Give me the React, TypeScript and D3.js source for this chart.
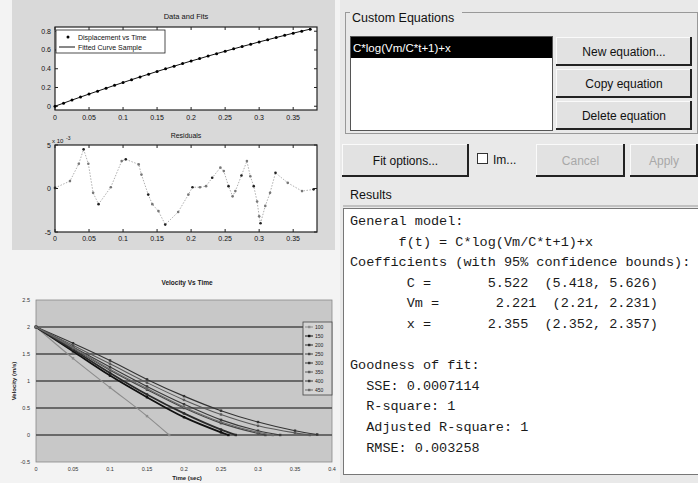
import React from 'react';
import * as d3 from 'd3';

// ---------- Data and Fits ----------
const dispT = [0, 0.0125, 0.025, 0.0375, 0.05, 0.0625, 0.075, 0.0875, 0.1, 0.1125, 0.125, 0.1375, 0.15, 0.1625, 0.175, 0.1875, 0.2, 0.2125, 0.225, 0.2375, 0.25, 0.2625, 0.275, 0.2875, 0.3, 0.3125, 0.325, 0.3375, 0.35, 0.3625, 0.375];
const dispY = [0, 0.033, 0.066, 0.098, 0.13, 0.161, 0.192, 0.223, 0.253, 0.283, 0.313, 0.342, 0.371, 0.399, 0.427, 0.455, 0.482, 0.508, 0.535, 0.561, 0.586, 0.612, 0.637, 0.661, 0.686, 0.709, 0.733, 0.756, 0.779, 0.801, 0.822];
const timeTicks = [0, 0.05, 0.1, 0.15, 0.2, 0.25, 0.3, 0.35];
const timeTickLabels = ['0', '0.05', '0.1', '0.15', '0.2', '0.25', '0.3', '0.35'];
const dispTicks = [0, 0.2, 0.4, 0.6, 0.8];
const dispTickLabels = ['0', '0.2', '0.4', '0.6', '0.8'];
const legendTop = ['Displacement vs Time', 'Fitted Curve Sample'];

// ---------- Residuals (x 10^-3) ----------
const resT = [0, 0.022, 0.035, 0.042, 0.049, 0.056, 0.064, 0.082, 0.098, 0.104, 0.123, 0.127, 0.137, 0.143, 0.152, 0.162, 0.181, 0.196, 0.202, 0.213, 0.222, 0.231, 0.243, 0.248, 0.255, 0.261, 0.265, 0.274, 0.282, 0.287, 0.292, 0.297, 0.3, 0.302, 0.309, 0.316, 0.324, 0.342, 0.363, 0.38];
const resV = [0.07, 0.85, 2.85, 4.5, 2.85, -0.5, -1.8, 0.15, 3.15, 3.35, 2.77, 1.6, -0.7, -1.8, -2.6, -4.15, -2.7, -0.7, 0.15, 0.15, 0.27, 1.23, 2.4, 2.0, 0.27, -0.9, -0.3, 1.5, 3.15, 1.4, 0.27, -1.5, -3.2, -4.0, -2.0, -0.5, 1.8, 0.65, -0.3, -0.1];
const resTicks = [-5, 0, 5];

// ---------- Velocity Vs Time ----------
const velTicksX = [0, 0.05, 0.1, 0.15, 0.2, 0.25, 0.3, 0.35, 0.4];
const velTickLabelsX = ['0', '0.05', '0.1', '0.15', '0.2', '0.25', '0.3', '0.35', '0.4'];
const velTicksY = [-0.5, 0, 0.5, 1, 1.5, 2, 2.5];
const velTickLabelsY = ['-0.5', '0', '0.5', '1', '1.5', '2', '2.5'];
const velNames = ['100', '150', '200', '250', '300', '350', '400', '450'];
const velAT = [0, 0.05, 0.1, 0.15, 0.18];
const velAV = [2, 1.42, 0.88, 0.35, 0];
const velBT = [0, 0.05, 0.1, 0.15, 0.2, 0.25, 0.26];
const velBV = [2, 1.55, 1.1, 0.7, 0.33, 0.05, 0];
const velCT = [0, 0.05, 0.1, 0.15, 0.2, 0.25, 0.27];
const velCV = [2, 1.58, 1.15, 0.75, 0.4, 0.1, 0];
const velDT = [0, 0.05, 0.1, 0.15, 0.2, 0.25, 0.3, 0.31];
const velDV = [2, 1.6, 1.2, 0.84, 0.5, 0.22, 0.03, 0];
const velET = [0, 0.05, 0.1, 0.15, 0.2, 0.25, 0.3, 0.35, 0.38];
const velEV = [2, 1.7, 1.38, 1.03, 0.72, 0.45, 0.24, 0.08, 0.01];
const velFT = [0, 0.05, 0.1, 0.15, 0.2, 0.25, 0.3, 0.35, 0.37];
const velFV = [2, 1.66, 1.32, 0.97, 0.65, 0.38, 0.17, 0.04, 0];
const velGT = [0, 0.05, 0.1, 0.15, 0.2, 0.25, 0.3, 0.33];
const velGV = [2, 1.63, 1.26, 0.9, 0.57, 0.28, 0.08, 0];
const velHT = [0, 0.05, 0.1, 0.15, 0.2, 0.25, 0.3, 0.32];
const velHV = [2, 1.62, 1.22, 0.86, 0.52, 0.24, 0.05, 0];

// ---------- Curve fitting tool panel ----------
const equationItems = ['C*log(Vm/C*t+1)+x'];
const equationButtons = ['New equation...', 'Copy equation', 'Delete equation'];
const resultLines = [
  'General model:',
  '      f(t) = C*log(Vm/C*t+1)+x',
  'Coefficients (with 95% confidence bounds):',
  '       C =       5.522  (5.418, 5.626)',
  '       Vm =       2.221  (2.21, 2.231)',
  '       x =       2.355  (2.352, 2.357)',
  '',
  'Goodness of fit:',
  '  SSE: 0.0007114',
  '  R-square: 1',
  '  Adjusted R-square: 1',
  '  RMSE: 0.003258',
];

const velSeries = [
  { t: velAT, v: velAV, color: '#8c8c8c' },
  { t: velBT, v: velBV, color: '#111111' },
  { t: velCT, v: velCV, color: '#2a2a2a' },
  { t: velDT, v: velDV, color: '#444444' },
  { t: velET, v: velEV, color: '#333333' },
  { t: velFT, v: velFV, color: '#5a5a5a' },
  { t: velGT, v: velGV, color: '#3a3a3a' },
  { t: velHT, v: velHV, color: '#6a6a6a' },
];

const sans = 'Liberation Sans, Arial, sans-serif';
const mono = 'Liberation Mono, Courier New, monospace';

function Button({ x, y, w, h, label, disabled }: any) {
  return (
    <g>
      <rect x={x} y={y} width={w} height={h} fill="#e2e2e2" />
      <line x1={x} y1={y + 0.5} x2={x + w} y2={y + 0.5} stroke="#fafafa" />
      <line x1={x + 0.5} y1={y} x2={x + 0.5} y2={y + h} stroke="#fafafa" />
      <line x1={x} y1={y + h - 1} x2={x + w} y2={y + h - 1} stroke="#222" strokeWidth={2} />
      <line x1={x + w - 1} y1={y} x2={x + w - 1} y2={y + h} stroke="#222" strokeWidth={2} />
      <text x={x + w / 2} y={y + h / 2 + 4} textAnchor="middle" fontFamily={sans} fontSize={12}
        fill={disabled ? '#a8a8a8' : '#111'}>{label}</text>
    </g>
  );
}

export default function App() {
  // top plot
  const xTop = d3.scaleLinear().domain([0, 0.385]).range([55, 317]);
  const yTop = d3.scaleLinear().domain([-0.04, 0.845]).range([110, 27]);
  const fitLine = d3.line<number>().x((_, i) => xTop(dispT[i])).y((d) => yTop(d));
  // residuals
  const xRes = d3.scaleLinear().domain([0, 0.385]).range([55, 317]);
  const yRes = d3.scaleLinear().domain([-5, 5]).range([232, 145]);
  const resLine = d3.line<number>().x((_, i) => xRes(resT[i])).y((d) => yRes(d));
  // velocity
  const xVel = d3.scaleLinear().domain([0, 0.4]).range([36, 332]);
  const yVel = d3.scaleLinear().domain([-0.5, 2.5]).range([462, 300]);

  return (
    <svg width={698} height={483} style={{ position: 'absolute', left: 0, top: 0 }}
      xmlns="http://www.w3.org/2000/svg">
      <rect x={0} y={0} width={698} height={483} fill="#f3f3f3" />

      {/* ===== MATLAB figure ===== */}
      <rect x={12} y={0} width={323} height={250} fill="#d9d9d9" />
      {/* Data and Fits */}
      <text x={186} y={19} textAnchor="middle" fontFamily={sans} fontSize={7.5} fill="#111">Data and Fits</text>
      <rect x={55} y={27} width={262} height={83} fill="#ffffff" stroke="#222" strokeWidth={1.2} />
      {timeTicks.map((t, i) => (
        <g key={'tx' + i}>
          <line x1={xTop(t)} x2={xTop(t)} y1={110} y2={107} stroke="#222" />
          <line x1={xTop(t)} x2={xTop(t)} y1={27} y2={30} stroke="#222" />
          <text x={xTop(t)} y={120} textAnchor="middle" fontFamily={sans} fontSize={7} fill="#111">{timeTickLabels[i]}</text>
        </g>
      ))}
      {dispTicks.map((v, i) => (
        <g key={'ty' + i}>
          <line x1={55} x2={58} y1={yTop(v)} y2={yTop(v)} stroke="#222" />
          <line x1={317} x2={314} y1={yTop(v)} y2={yTop(v)} stroke="#222" />
          <text x={51} y={yTop(v) + 2.5} textAnchor="end" fontFamily={sans} fontSize={7} fill="#111">{dispTickLabels[i]}</text>
        </g>
      ))}
      <path d={fitLine(dispY) || ''} fill="none" stroke="#111" strokeWidth={1} />
      {dispY.map((v, i) => (
        <circle key={'dp' + i} cx={xTop(dispT[i])} cy={yTop(v)} r={1.5} fill="#000" />
      ))}
      <rect x={56} y={30} width={109} height={23} fill="#fff" stroke="#222" strokeWidth={0.8} />
      <circle cx={68} cy={37} r={1.5} fill="#000" />
      <text x={78} y={39.5} fontFamily={sans} fontSize={7} fill="#111">{legendTop[0]}</text>
      <line x1={59} x2={75} y1={47} y2={47} stroke="#111" />
      <text x={78} y={49.5} fontFamily={sans} fontSize={7} fill="#111">{legendTop[1]}</text>

      {/* Residuals */}
      <text x={186} y={138} textAnchor="middle" fontFamily={sans} fontSize={7} fill="#111">Residuals</text>
      <text x={52} y={143} fontFamily={sans} fontSize={6} fill="#111">x 10</text>
      <text x={66} y={140} fontFamily={sans} fontSize={5} fill="#111">-3</text>
      <rect x={55} y={145} width={262} height={87} fill="#ffffff" stroke="#222" strokeWidth={1.2} />
      {timeTicks.map((t, i) => (
        <g key={'rx' + i}>
          <line x1={xRes(t)} x2={xRes(t)} y1={232} y2={229} stroke="#222" />
          <line x1={xRes(t)} x2={xRes(t)} y1={145} y2={148} stroke="#222" />
          <text x={xRes(t)} y={241} textAnchor="middle" fontFamily={sans} fontSize={7} fill="#111">{timeTickLabels[i]}</text>
        </g>
      ))}
      {resTicks.map((v, i) => (
        <g key={'ry' + i}>
          <line x1={55} x2={58} y1={yRes(v)} y2={yRes(v)} stroke="#222" />
          <line x1={317} x2={314} y1={yRes(v)} y2={yRes(v)} stroke="#222" />
          <text x={51} y={yRes(v) + 2.5} textAnchor="end" fontFamily={sans} fontSize={7} fill="#111">{String(v)}</text>
        </g>
      ))}
      <path d={resLine(resV) || ''} fill="none" stroke="#9a9a9a" strokeWidth={0.8} strokeDasharray="1.5,1.5" />
      {resV.map((v, i) => (
        <circle key={'rp' + i} cx={xRes(resT[i])} cy={yRes(v)} r={1.3} fill={i % 3 === 0 ? '#222' : '#777'} />
      ))}

      {/* ===== Velocity Vs Time (Excel) ===== */}
      <text x={187} y={285} textAnchor="middle" fontFamily={sans} fontSize={6.5} fontWeight="bold" fill="#222">Velocity Vs Time</text>
      <rect x={36} y={300} width={296} height={162} fill="#c8c8c8" stroke="#888" strokeWidth={0.8} />
      {velTicksY.map((v, i) => (
        <g key={'vy' + i}>
          {v > -0.5 && v < 2.5 && (
            <line x1={36} x2={332} y1={yVel(v)} y2={yVel(v)} stroke="#4a4a4a" strokeWidth={1.6} />
          )}
          <text x={30} y={yVel(v) + 2} textAnchor="end" fontFamily={sans} fontSize={5.5} fill="#333">{velTickLabelsY[i]}</text>
        </g>
      ))}
      {velTicksX.map((t, i) => (
        <text key={'vx' + i} x={xVel(t)} y={471} textAnchor="middle" fontFamily={sans} fontSize={5.5} fill="#333">{velTickLabelsX[i]}</text>
      ))}
      <text x={187} y={480} textAnchor="middle" fontFamily={sans} fontSize={6} fontWeight="bold" fill="#222">Time (sec)</text>
      <text transform={`translate(16,381) rotate(-90)`} textAnchor="middle" fontFamily={sans} fontSize={6} fontWeight="bold" fill="#222">Velocity (m/s)</text>
      {velSeries.map((s, k) => {
        const ln = d3.line<number>().x((_, i) => xVel(s.t[i])).y((d) => yVel(d)).curve(d3.curveMonotoneX);
        return (
          <g key={'vs' + k}>
            <path d={ln(s.v) || ''} fill="none" stroke={s.color} strokeWidth={k === 1 || k === 2 ? 1.8 : 1.1} />
            {s.v.map((v, i) => (
              <rect key={i} x={xVel(s.t[i]) - 1.2} y={yVel(v) - 1.2} width={2.4} height={2.4} fill={s.color} />
            ))}
          </g>
        );
      })}
      <rect x={303} y={322} width={29} height={73} fill="#d4d4d4" stroke="#444" strokeWidth={0.8} />
      {velNames.map((n, i) => (
        <g key={'vl' + i}>
          <line x1={305} x2={313} y1={327 + i * 9} y2={327 + i * 9} stroke={velSeries[i].color} strokeWidth={1} />
          <rect x={308} y={325.8 + i * 9} width={2.4} height={2.4} fill={velSeries[i].color} />
          <text x={315} y={329 + i * 9} fontFamily={sans} fontSize={5} fill="#222">{n}</text>
        </g>
      ))}

      {/* ===== Curve fitting tool panel ===== */}
      <rect x={340} y={0} width={358} height={483} fill="#e9e9e9" />
      <rect x={345.5} y={12.5} width={352} height={121} fill="none" stroke="#999" />
      <rect x={350} y={6} width={112} height={14} fill="#e9e9e9" />
      <text x={352} y={22} fontFamily={sans} fontSize={12.5} fill="#111">Custom Equations</text>
      <rect x={350.5} y={36.5} width={202} height={94} fill="#ffffff" stroke="#555" />
      <rect x={351} y={37} width={201} height={21} fill="#000" />
      {equationItems.map((e, i) => (
        <text key={'eq' + i} x={353} y={52 + i * 21} fontFamily={sans} fontSize={11.5} fill="#fff">{e}</text>
      ))}
      {equationButtons.map((b, i) => (
        <Button key={'eb' + i} x={556} y={37 + i * 32} w={136} h={29} label={b} />
      ))}
      <Button x={342} y={144} w={127} h={33} label="Fit options..." />
      <rect x={477.5} y={153.5} width={10} height={10} fill="#fff" stroke="#333" />
      <text x={493} y={164} fontFamily={sans} fontSize={12} fill="#111">Im...</text>
      <Button x={536} y={144} w={89} h={33} label="Cancel" disabled />
      <Button x={630} y={144} w={68} h={33} label="Apply" disabled />
      <text x={350} y={199} fontFamily={sans} fontSize={12.5} fill="#111">Results</text>
      <line x1={343} x2={698} y1={206} y2={206} stroke="#999" />
      <rect x={343.5} y={208.5} width={360} height={266} fill="#ffffff" stroke="#777" />
      {resultLines.map((l, i) => (
        <text key={'rl' + i} x={350} y={225 + i * 20.6} fontFamily={mono} fontSize={13.5} fill="#1a1a1a"
          style={{ whiteSpace: 'pre' }} xmlSpace="preserve">{l}</text>
      ))}
    </svg>
  );
}
